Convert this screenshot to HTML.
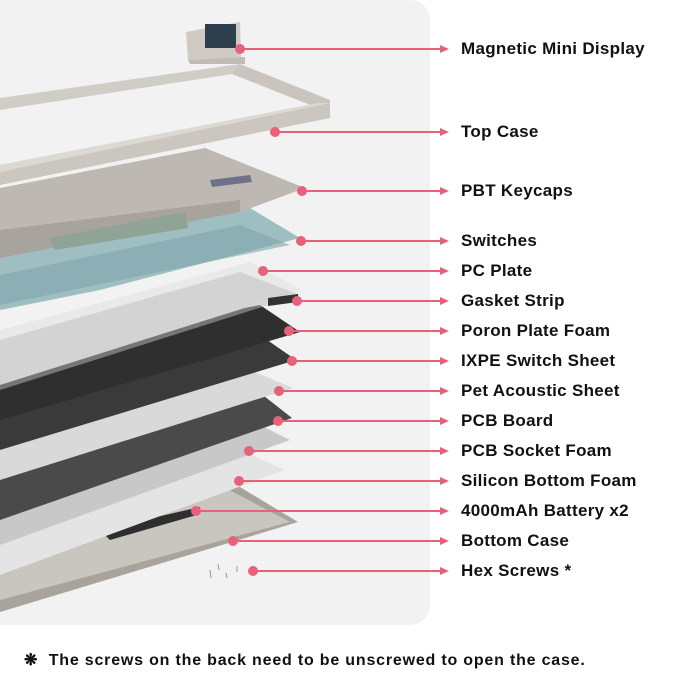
<!DOCTYPE html>
<html><head><style>
body{margin:0;width:680px;height:688px;background:#fff;font-family:"Liberation Sans",sans-serif;position:relative;overflow:hidden}
.panel{position:absolute;left:-20px;top:0;width:450px;height:625px;background:#f2f2f2;border-radius:20px}
.lab{position:absolute;left:461px;font-weight:bold;font-size:17px;letter-spacing:0.3px;color:#111;line-height:20px;white-space:nowrap}
.foot{position:absolute;left:24px;top:650px;font-weight:bold;font-size:16px;letter-spacing:0.8px;color:#111;white-space:nowrap}
</style></head><body>
<div class="panel"></div>
<svg width="680" height="688" style="position:absolute;left:0;top:0">
<!-- bottom case -->
<polygon points="0,560 225,478 298,522 0,612" fill="#a8a39b"/>
<polygon points="0,565 220,485 290,522 0,600" fill="#c9c5bf"/>
<polygon points="100,530 200,507 200,514 110,540" fill="#2e2e2e"/>
<!-- silicon foam -->
<polygon points="0,505 230,445 285,470 0,575" fill="#e4e4e4"/>
<!-- socket foam -->
<polygon points="0,470 240,415 290,440 0,545" fill="#c8c8c8"/>
<!-- pcb -->
<polygon points="0,440 250,385 292,418 0,520" fill="#4a4a4a"/>
<!-- pet sheet -->
<polygon points="0,420 250,370 293,388 0,480" fill="#d9d9d9"/>
<!-- ixpe -->
<polygon points="0,390 260,335 296,360 0,450" fill="#3a3a3a"/>
<!-- poron -->
<polygon points="0,355 260,305 300,332 0,420" fill="#2f2f2f"/>
<!-- pc plate -->
<polygon points="0,330 250,262 302,290 0,385" fill="#e9e9e9"/>
<polygon points="0,340 240,272 300,295 0,390" fill="#bdbdbd" opacity="0.5"/>
<polygon points="268,298 298,294 298,302 268,306" fill="#333"/>
<!-- switches -->
<polygon points="0,255 245,205 300,238 100,290 0,310" fill="#9fbec2"/>
<polygon points="0,275 240,225 290,245 0,305" fill="#7fa5aa" opacity="0.6"/>
<!-- keycaps -->
<polygon points="0,188 205,148 305,188 240,212 0,252" fill="#bdb8b1"/>
<polygon points="0,230 240,200 240,212 0,258" fill="#a8a39c"/>
<polygon points="50,238 185,212 188,228 55,250" fill="#8fa497"/>
<polygon points="210,180 250,175 252,182 212,187" fill="#6f7188"/>
<!-- top case frame -->
<polygon points="0,98 240,64 245,72 0,110" fill="#d0ccc6"/>
<polygon points="240,64 330,100 330,118 318,108 232,74" fill="#c9c4bd"/>
<polygon points="0,165 318,103 330,103 330,118 0,185" fill="#cbc6bf"/>
<polygon points="0,165 318,103 330,103 0,172" fill="#dcd8d2"/>
<!-- display -->
<polygon points="186,32 240,22 241,58 188,60" fill="#cfcac3"/>
<rect x="205" y="24" width="31" height="24" fill="#2d3e4c"/>
<polygon points="188,60 245,57 245,64 190,64" fill="#c0bbb4"/>
<!-- screws -->
<g stroke="#999" stroke-width="1"><line x1="210" y1="570" x2="211" y2="578"/><line x1="218" y1="564" x2="219" y2="570"/><line x1="226" y1="573" x2="227" y2="578"/><line x1="237" y1="566" x2="237" y2="572"/></g>
<g stroke="#e8617b" stroke-width="2" fill="#e8617b">
<line x1="240" y1="49" x2="442" y2="49"/><circle cx="240" cy="49" r="4"/>
<line x1="275" y1="132" x2="442" y2="132"/><circle cx="275" cy="132" r="4"/>
<line x1="302" y1="191" x2="442" y2="191"/><circle cx="302" cy="191" r="4"/>
<line x1="301" y1="241" x2="442" y2="241"/><circle cx="301" cy="241" r="4"/>
<line x1="263" y1="271" x2="442" y2="271"/><circle cx="263" cy="271" r="4"/>
<line x1="297" y1="301" x2="442" y2="301"/><circle cx="297" cy="301" r="4"/>
<line x1="289" y1="331" x2="442" y2="331"/><circle cx="289" cy="331" r="4"/>
<line x1="292" y1="361" x2="442" y2="361"/><circle cx="292" cy="361" r="4"/>
<line x1="279" y1="391" x2="442" y2="391"/><circle cx="279" cy="391" r="4"/>
<line x1="278" y1="421" x2="442" y2="421"/><circle cx="278" cy="421" r="4"/>
<line x1="249" y1="451" x2="442" y2="451"/><circle cx="249" cy="451" r="4"/>
<line x1="239" y1="481" x2="442" y2="481"/><circle cx="239" cy="481" r="4"/>
<line x1="196" y1="511" x2="442" y2="511"/><circle cx="196" cy="511" r="4"/>
<line x1="233" y1="541" x2="442" y2="541"/><circle cx="233" cy="541" r="4"/>
<line x1="253" y1="571" x2="442" y2="571"/><circle cx="253" cy="571" r="4"/>
</g>
<g fill="#e8617b">
<polygon points="440,45 449,49 440,53"/><polygon points="440,128 449,132 440,136"/><polygon points="440,187 449,191 440,195"/><polygon points="440,237 449,241 440,245"/><polygon points="440,267 449,271 440,275"/><polygon points="440,297 449,301 440,305"/><polygon points="440,327 449,331 440,335"/><polygon points="440,357 449,361 440,365"/><polygon points="440,387 449,391 440,395"/><polygon points="440,417 449,421 440,425"/><polygon points="440,447 449,451 440,455"/><polygon points="440,477 449,481 440,485"/><polygon points="440,507 449,511 440,515"/><polygon points="440,537 449,541 440,545"/><polygon points="440,567 449,571 440,575"/>
</g>
</svg>
<div class="lab" style="top:39px">Magnetic Mini Display</div>
<div class="lab" style="top:122px">Top Case</div>
<div class="lab" style="top:181px">PBT Keycaps</div>
<div class="lab" style="top:231px">Switches</div>
<div class="lab" style="top:261px">PC Plate</div>
<div class="lab" style="top:291px">Gasket Strip</div>
<div class="lab" style="top:321px">Poron Plate Foam</div>
<div class="lab" style="top:351px">IXPE Switch Sheet</div>
<div class="lab" style="top:381px">Pet Acoustic Sheet</div>
<div class="lab" style="top:411px">PCB Board</div>
<div class="lab" style="top:441px">PCB Socket Foam</div>
<div class="lab" style="top:471px">Silicon Bottom Foam</div>
<div class="lab" style="top:501px">4000mAh Battery x2</div>
<div class="lab" style="top:531px">Bottom Case</div>
<div class="lab" style="top:561px">Hex Screws *</div>
<div class="foot">❋&nbsp;&nbsp;The screws on the back need to be unscrewed to open the case.</div>
</body></html>
